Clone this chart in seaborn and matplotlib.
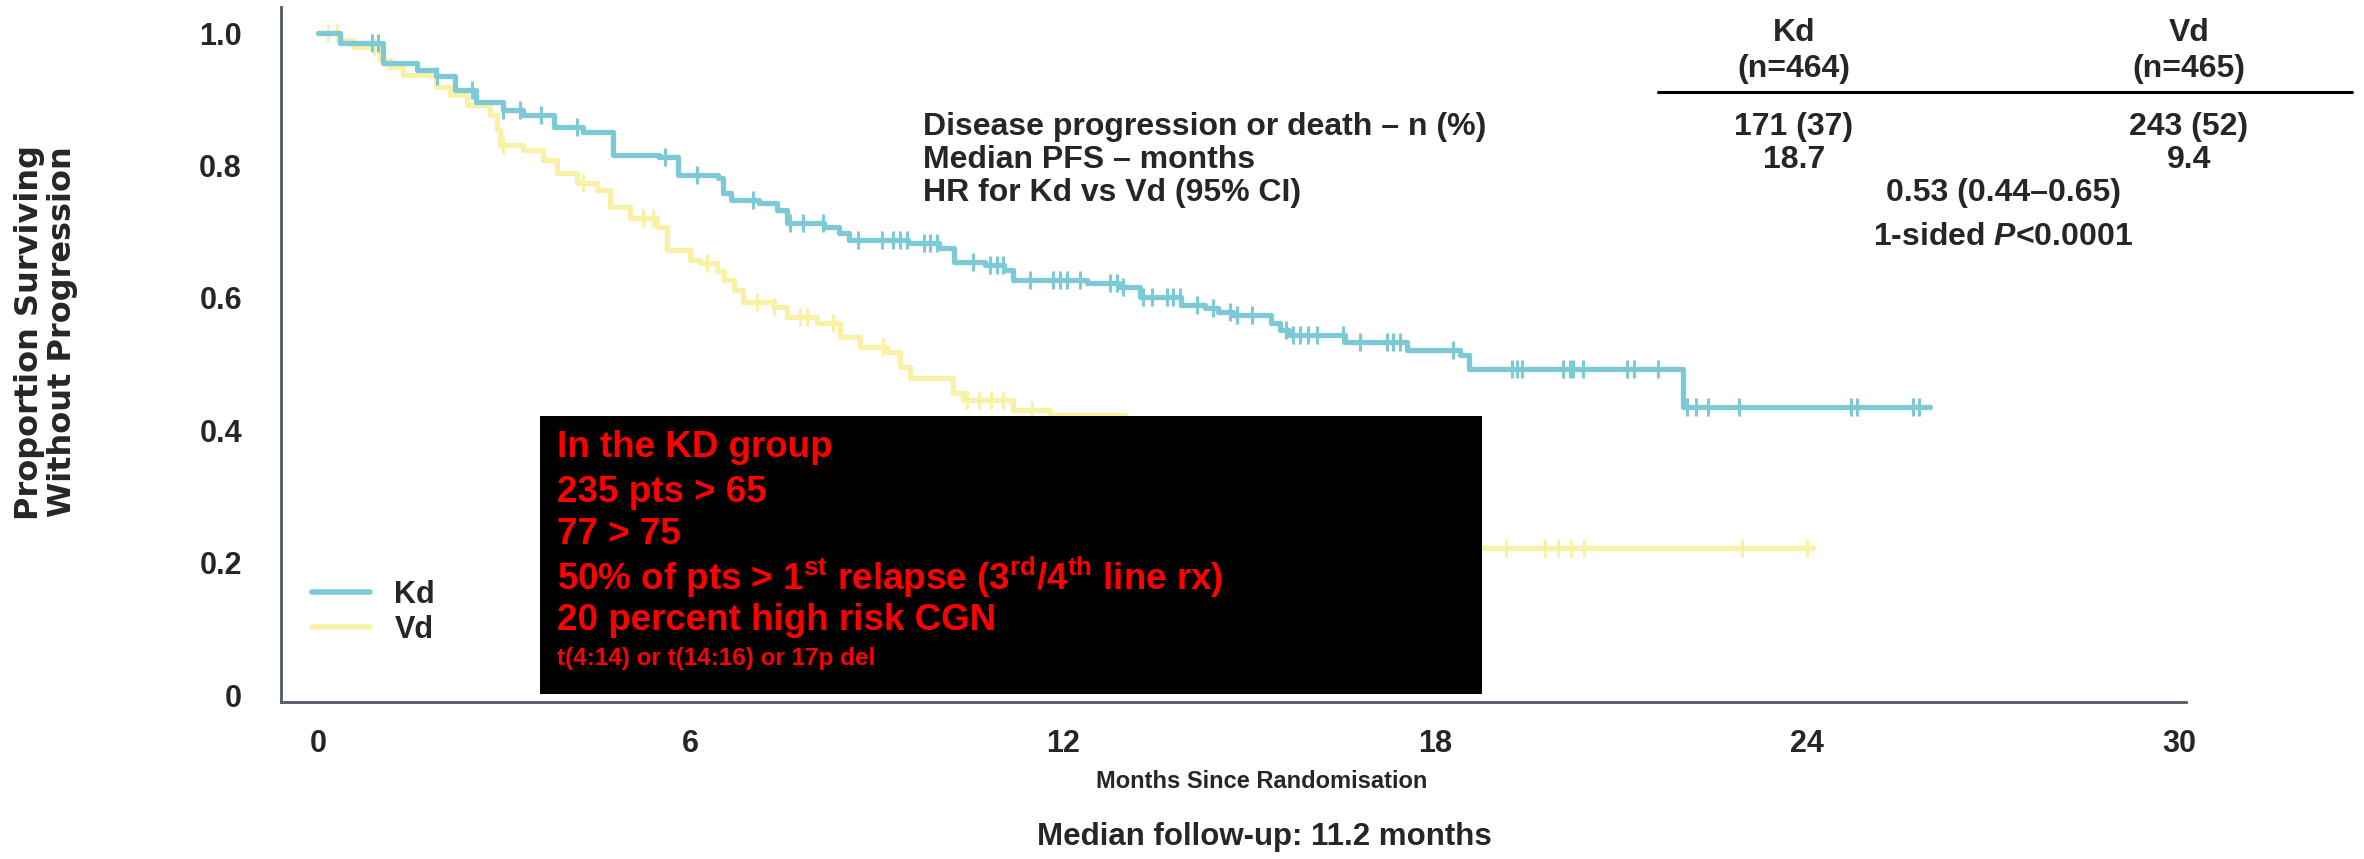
import numpy as np
import pandas as pd
import matplotlib
matplotlib.use("Agg")
import matplotlib.pyplot as plt
from matplotlib.patches import Rectangle
from matplotlib.lines import Line2D
import seaborn as sns

# ---- Kaplan-Meier step data (months, proportion progression-free) ----
kd_time = [0, 0.35, 1.05, 1.6, 1.9, 2.2, 2.55, 2.98, 3.3, 3.8, 4.27, 4.75, 5.5, 5.8,
           6.45, 6.53, 6.65, 7.1, 7.4, 7.56, 8.15, 8.4, 8.55, 9.5, 10.0, 10.25, 10.75,
           11.05, 11.2, 12.4, 12.9, 13.25, 13.9, 14.3, 14.5, 14.75, 15.35, 15.5, 15.65,
           16.55, 17.55, 18.4, 18.55, 22.0, 25.98]
kd_surv = [1.0, 0.985, 0.955, 0.944, 0.935, 0.914, 0.896, 0.884, 0.876, 0.858, 0.85,
           0.816, 0.813, 0.786, 0.781, 0.758, 0.748, 0.743, 0.733, 0.713, 0.707, 0.698,
           0.687, 0.683, 0.675, 0.654, 0.65, 0.642, 0.627, 0.622, 0.616, 0.601, 0.589,
           0.585, 0.579, 0.574, 0.562, 0.551, 0.544, 0.533, 0.521, 0.514, 0.492, 0.435,
           0.435]

vd_time = [0, 0.35, 0.57, 1.0, 1.16, 1.37, 1.9, 2.13, 2.4, 2.77, 2.88, 2.93, 3.3, 3.63,
           3.85, 4.17, 4.5, 4.7, 5.03, 5.46, 5.62, 6.0, 6.16, 6.43, 6.55, 6.7, 6.85, 7.34,
           7.56, 8.04, 8.41, 8.74, 9.17, 9.38, 9.54, 10.24, 10.4, 11.2, 11.8, 13.0, 15.0,
           17.0, 24.1]
vd_surv = [1.0, 0.99, 0.979, 0.959, 0.949, 0.937, 0.918, 0.906, 0.891, 0.876, 0.853,
           0.831, 0.823, 0.808, 0.789, 0.773, 0.763, 0.737, 0.72, 0.707, 0.672, 0.657,
           0.652, 0.64, 0.627, 0.612, 0.594, 0.586, 0.571, 0.562, 0.541, 0.526, 0.518,
           0.496, 0.479, 0.456, 0.446, 0.43, 0.423, 0.38, 0.30, 0.222, 0.222]

# censoring times (months)
kd_censor = [0.87, 0.97, 1.91, 2.48, 2.98, 3.26, 3.6, 4.17, 5.59, 6.1, 7.01, 7.61, 7.82,
             8.14, 8.7, 9.09, 9.27, 9.38, 9.49, 9.76, 9.86, 9.98, 10.56, 10.83, 10.94,
             11.04, 11.47, 11.85, 11.96, 12.07, 12.28, 12.76, 12.88, 12.98, 13.3, 13.44,
             13.68, 13.78, 13.89, 14.17, 14.43, 14.7, 14.81, 15.05, 15.6, 15.71, 15.83,
             15.96, 16.1, 16.52, 16.79, 17.23, 17.33, 17.44, 18.29, 19.24, 19.32, 19.4,
             20.07, 20.18, 20.23, 20.39, 21.1, 21.2, 21.6, 22.06, 22.2, 22.4, 22.9, 24.7,
             24.8, 25.7, 25.8]
vd_censor = [0.16, 0.3, 0.9, 2.98, 4.27, 5.24, 5.4, 6.27, 7.07, 7.34, 7.77, 7.88, 8.3,
             9.1, 10.46, 10.65, 10.85, 11.04, 11.5, 19.15, 19.77, 19.98, 20.2, 20.4,
             22.95, 24.0]

arms = ["Kd", "Vd"]
arm_n = ["(n=464)", "(n=465)"]
arm_colors = {"Kd": "#7DC9D5", "Vd": "#F8F1A6"}

x_ticks = [0, 6, 12, 18, 24, 30]
y_ticks = [0, 0.2, 0.4, 0.6, 0.8, 1.0]
y_tick_labels = ["0", "0.2", "0.4", "0.6", "0.8", "1.0"]

table_rows = ["Disease progression or death \u2013 n (%)",
              "Median PFS \u2013 months",
              "HR for Kd vs Vd (95% CI)"]
events = ["171 (37)", "243 (52)"]
median_pfs = ["18.7", "9.4"]
hazard_ratio = "0.53 (0.44\u20130.65)"
p_value = "1-sided $\\mathit{P}$<0.0001"

box_lines = ["In the KD group",
             "235 pts > 65",
             "77 > 75",
             "50% of pts > 1$^{\\mathrm{st}}$ relapse (3$^{\\mathrm{rd}}$/4$^{\\mathrm{th}}$ line rx)",
             "20 percent high risk CGN"]
box_note = "t(4:14) or t(14:16) or 17p del"

# ---- style ----
sns.set_theme(style="white")
plt.rcParams["font.family"] = ["Liberation Sans", "DejaVu Sans"]
plt.rcParams["font.weight"] = "bold"
plt.rcParams["mathtext.fontset"] = "custom"
plt.rcParams["mathtext.rm"] = "Liberation Sans:bold"
plt.rcParams["mathtext.bf"] = "Liberation Sans:bold"
plt.rcParams["mathtext.it"] = "Liberation Sans:bold:italic"

W, H = 2364, 859
fig = plt.figure(figsize=(W / 100, H / 100), dpi=100)


def fx(px):
    return px / W


def fy(py):
    return 1 - py / H


ax = fig.add_axes([0.1188, 0.1832, 0.8058, 0.8092])

curves = pd.concat([
    pd.DataFrame({"month": kd_time, "surv": kd_surv, "arm": "Kd"}),
    pd.DataFrame({"month": vd_time, "surv": vd_surv, "arm": "Vd"}),
])


def step_value(times, surv, t):
    idx = np.searchsorted(np.asarray(times), np.asarray(t), side="right") - 1
    return np.asarray(surv)[idx]


cens = pd.concat([
    pd.DataFrame({"month": kd_censor, "surv": step_value(kd_time, kd_surv, kd_censor), "arm": "Kd"}),
    pd.DataFrame({"month": vd_censor, "surv": step_value(vd_time, vd_surv, vd_censor), "arm": "Vd"}),
])

for arm, z in (("Vd", 2), ("Kd", 3)):
    d = curves[curves["arm"] == arm]
    sns.lineplot(data=d, x="month", y="surv", ax=ax, color=arm_colors[arm],
                 drawstyle="steps-post", estimator=None, lw=3.8, zorder=z,
                 legend=False)
    c = cens[cens["arm"] == arm]
    sns.scatterplot(data=c, x="month", y="surv", ax=ax, color=arm_colors[arm],
                    marker="|", s=170, linewidth=2.2, zorder=z, legend=False)

# black annotation panel over the plot
ax.add_patch(Rectangle((3.58, 0.0015), 15.18, 0.42, facecolor="black",
                       edgecolor="none", zorder=5))
red_y = [448, 493, 535, 577, 620]
for txt, py in zip(box_lines, red_y):
    fig.text(fx(557), fy(py), txt, color="#FF0000", fontsize=26.5, fontweight="bold",
             va="center", ha="left", zorder=6)
fig.text(fx(557), fy(659), box_note, color="#FF0000", fontsize=17.5, fontweight="bold",
         va="center", ha="left", zorder=6)

ax.set_xlim(-0.6, 30.1)
ax.set_ylim(-0.01, 1.04)
ax.set_xticks(x_ticks)
ax.set_xticklabels([str(v) for v in x_ticks])
ax.set_yticks(y_ticks)
ax.set_yticklabels(y_tick_labels)
ax.tick_params(axis="both", length=0, labelsize=22)
ax.tick_params(axis="y", pad=28)
ax.tick_params(axis="x", pad=20)
for lab in ax.get_xticklabels() + ax.get_yticklabels():
    lab.set_fontweight("bold")
ax.set_xlabel("")
ax.set_ylabel("")
for s in ("top", "right"):
    ax.spines[s].set_visible(False)
for s in ("left", "bottom"):
    ax.spines[s].set_color("#4F5B66")
    ax.spines[s].set_linewidth(2)

fig.text(fx(1262), fy(782), "Months Since Randomisation", fontsize=17,
         fontweight="bold", ha="center", va="center")
fig.text(fx(1264), fy(837), "Median follow-up: 11.2 months", fontsize=22.5,
         fontweight="bold", ha="center", va="center")
fig.text(fx(46), fy(332), "Proportion Surviving\nWithout Progression", fontsize=23,
         fontweight="bold", family="DejaVu Sans", rotation=90, ha="center",
         va="center", linespacing=1.1)

# legend
handles = [Line2D([], [], color=arm_colors[a], lw=4) for a in arms]
ax.legend(handles, arms, loc="upper left", bbox_to_anchor=(fx(312), fy(580)),
          bbox_transform=fig.transFigure, frameon=False,
          handlelength=1.9, handletextpad=0.8, labelspacing=0.15,
          borderpad=0, borderaxespad=0, prop={"weight": "bold", "size": 22})

# summary table
kd_x, vd_x, hr_x = 1794, 2189, 2003
for name, n, px in zip(arms, arm_n, (kd_x, vd_x)):
    fig.text(fx(px), fy(33), name, fontsize=23, fontweight="bold", ha="center",
             va="center")
    fig.text(fx(px), fy(69), n, fontsize=23, fontweight="bold", ha="center",
             va="center")
fig.add_artist(Line2D([fx(1658), fx(2352)], [fy(92), fy(92)], color="black", lw=2.2))
row_y = [127, 160, 193]
for txt, py in zip(table_rows, row_y):
    fig.text(fx(923), fy(py), txt, fontsize=23, fontweight="bold", ha="left", va="center")
for vals, py in ((events, row_y[0]), (median_pfs, row_y[1])):
    for txt, px in zip(vals, (kd_x, vd_x)):
        fig.text(fx(px), fy(py), txt, fontsize=23, fontweight="bold", ha="center",
                 va="center")
fig.text(fx(hr_x), fy(row_y[2]), hazard_ratio, fontsize=23, fontweight="bold",
         ha="center", va="center")
fig.text(fx(hr_x), fy(237), p_value, fontsize=23, fontweight="bold", ha="center",
         va="center")

fig.savefig("out.png", dpi=100, facecolor="white")
